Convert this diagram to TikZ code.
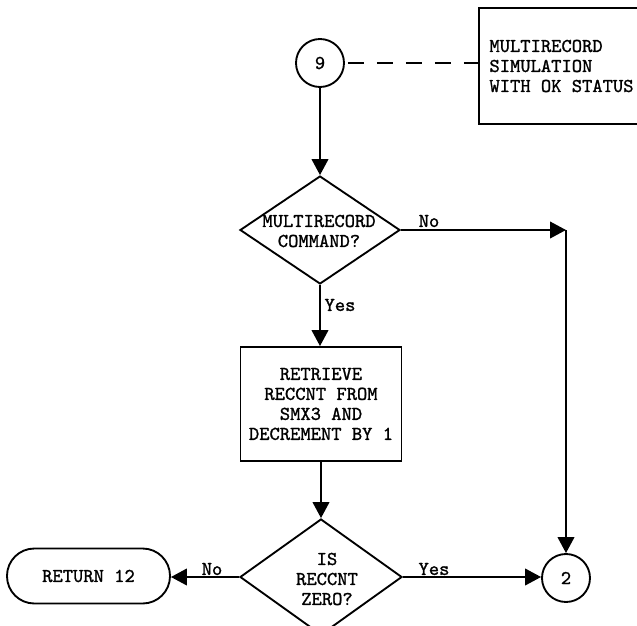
\documentclass[tikz,border=0pt]{standalone}
\usepackage{fontspec}
\newfontfamily\tw{lmmono10-regular}[Extension=.otf, FakeBold=1.2]
\usetikzlibrary{shapes.geometric,arrows.meta}
\begin{document}
\begin{tikzpicture}[x=0.75pt,y=-0.75pt, line width=1.4pt,
  every node/.style={font=\fontsize{14.7}{15}\selectfont\tw},
  conn/.style={draw, circle, minimum size=36pt, inner sep=0pt},
  decision/.style={draw, diamond, inner sep=0pt},
  procbox/.style={draw, rectangle, inner sep=0pt, align=center},
  termbox/.style={draw, rectangle, rounded corners=20.5pt, inner sep=0pt},
  lbl/.style={inner sep=0pt},
  flow/.style={-{Triangle[length=12pt,width=12.5pt]}}]
\useasboundingbox (0,0) rectangle (637,626);
% nodes
\node[conn] (c9) at (320,63) {9};
\node[procbox, draw=none, align=left, minimum width=122.25pt, minimum height=85.5pt] (sim) at (561.5,66) {MULTIRECORD\\SIMULATION\\WITH OK STATUS};
\coordinate (rim) at (637,0);
\draw (sim.north -| rim) -- (sim.north west) -- (sim.south west) -- (sim.south -| rim);
\node[decision, minimum width=120pt, minimum height=81pt] (d1) at (320,230) {};
\node[lbl, align=center] (d1t) at (319,231) {MULTIRECORD\\COMMAND?};
\node[procbox, minimum width=120.75pt, minimum height=85.5pt] (box) at (321,404) {RETRIEVE\\RECCNT FROM\\SMX3 AND\\DECREMENT BY 1};
\node[decision, minimum width=121.5pt, minimum height=87pt] (d2) at (321,577) {};
\node[lbl, align=center] (d2t) at (327,579) {IS\\RECCNT\\ZERO?};
\node[termbox, minimum width=122.25pt, minimum height=41.25pt] (ret) at (88.5,576) {RETURN 12};
\node[conn] (c2) at (566,578) {2};
\coordinate (corner) at (566,230);
% connectors
\draw[dash pattern=on 12pt off 9.75pt, dash phase=19.5pt] (c9.east) -- (c9.east -| sim.west);
\draw[flow] (c9) -- (d1);
\draw[flow] (d1.east) -- (corner);
\draw[flow] (corner) -- (c2.north);
\draw[flow] (d1.south) -- (d1.south |- box.north);
\draw[flow] (box) -- (d2);
\draw[flow] (d2.west) -- (d2.west -| ret.east);
\draw[flow] (d2.east) -- (d2.east -| c2.west);
% labels
\node[lbl] (no1) at (429,221) {No};
\node[lbl] (yes1) at (340,305) {Yes};
\node[lbl] (no2) at (212,569) {No};
\node[lbl] (yes2) at (434,569) {Yes};
\end{tikzpicture}
\end{document}
